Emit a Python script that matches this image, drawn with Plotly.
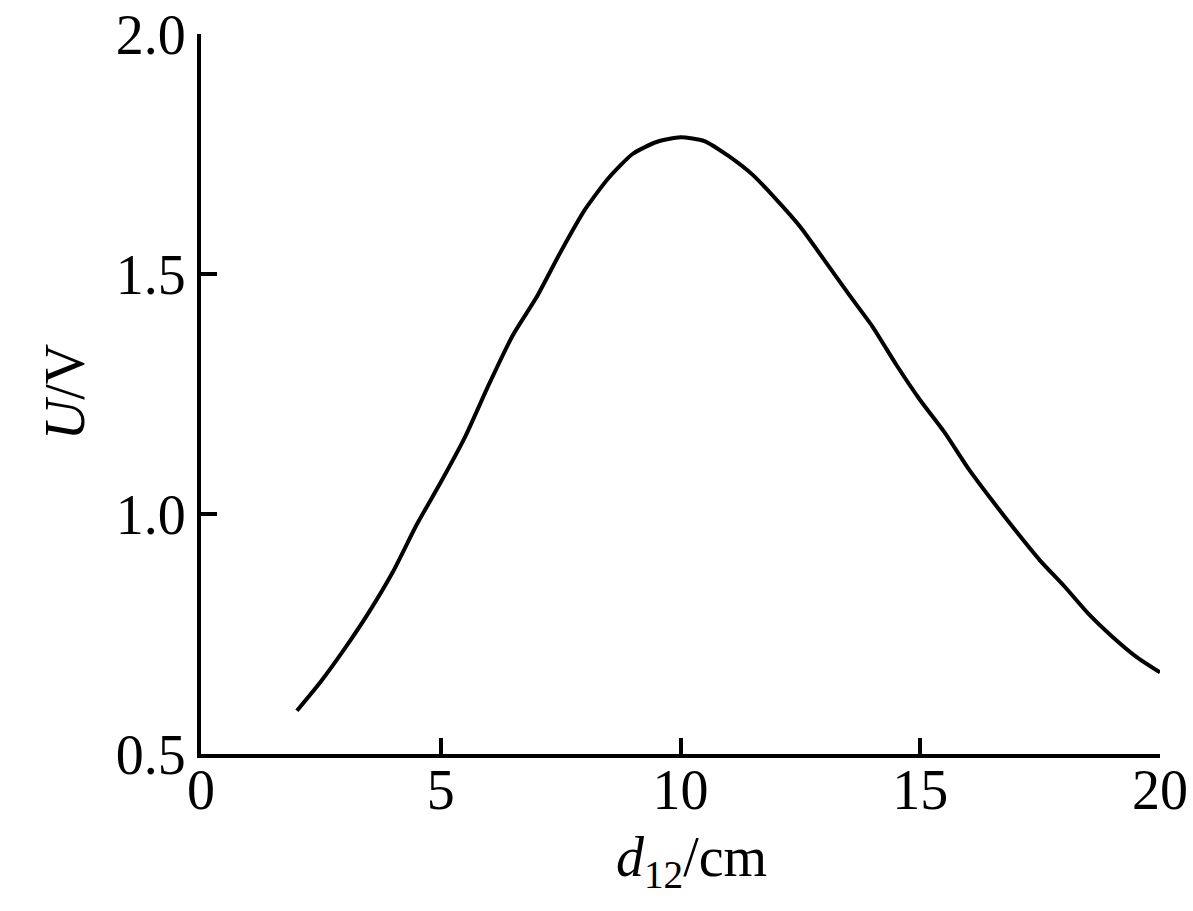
import plotly.graph_objects as go

d12 = [2.0, 2.5, 3.0, 3.5, 4.0, 4.5, 5.0, 5.5, 6.0, 6.5, 7.0, 7.5, 8.0, 8.5, 9.0, 9.5,
       10.0, 10.5, 11.0, 11.5, 12.0, 12.5, 13.0, 13.5, 14.0, 14.5, 15.0, 15.5, 16.0,
       16.5, 17.0, 17.5, 18.0, 18.5, 19.0, 19.5, 20.0]
U = [0.59, 0.651, 0.72, 0.795, 0.879, 0.978, 1.066, 1.159, 1.269, 1.372, 1.452, 1.546,
     1.633, 1.700, 1.750, 1.775, 1.785, 1.777, 1.746, 1.707, 1.655, 1.598, 1.529, 1.459,
     1.391, 1.311, 1.237, 1.171, 1.095, 1.028, 0.964, 0.903, 0.850, 0.793, 0.745, 0.703, 0.670]

x_ticks = [0, 5, 10, 15, 20]
y_ticks = [0.5, 1.0, 1.5, 2.0]
y_labels = ["0.5", "1.0", "1.5", "2.0"]
x_title = "<i>d</i><sub>12</sub>/cm"
y_title = "<i>U</i>/V"

FONT = "Liberation Serif, Times New Roman, serif"

fig = go.Figure()
fig.add_trace(go.Scatter(x=d12, y=U, mode="lines",
                         line=dict(color="black", width=4, shape="spline", smoothing=0.6),
                         showlegend=False, hoverinfo="skip", cliponaxis=False))

fig.update_layout(
    width=1193, height=911,
    margin=dict(l=201, r=33, t=34, b=157),
    paper_bgcolor="white", plot_bgcolor="white",
    font=dict(family=FONT, size=56, color="black"),
)
fig.update_xaxes(
    range=[0, 20], tickvals=x_ticks, ticktext=[str(v) for v in x_ticks],
    showline=True, linecolor="black", linewidth=4,
    ticks="inside", ticklen=16, tickwidth=3.5, tickcolor="black",
    ticklabelstandoff=-16,
    showgrid=False, zeroline=False, automargin=False,
)
fig.update_yaxes(
    range=[0.5, 2.0], tickvals=y_ticks, ticktext=y_labels,
    showline=True, linecolor="black", linewidth=4,
    ticks="inside", ticklen=16, tickwidth=3.5, tickcolor="black",
    showgrid=False, zeroline=False, automargin=False,
)
fig.add_annotation(text=x_title, xref="paper", yref="paper", x=0.511, y=-0.149,
                   xanchor="center", yanchor="middle", showarrow=False,
                   font=dict(family=FONT, size=56, color="black"))
fig.add_annotation(text=y_title, xref="paper", yref="paper", x=-0.1425, y=0.503,
                   xanchor="center", yanchor="middle", showarrow=False, textangle=-90,
                   font=dict(family=FONT, size=56, color="black"))

fig.write_html("out.html", config={"displayModeBar": False},
               post_script="document.body.style.margin='0';document.body.style.overflow='hidden';")
